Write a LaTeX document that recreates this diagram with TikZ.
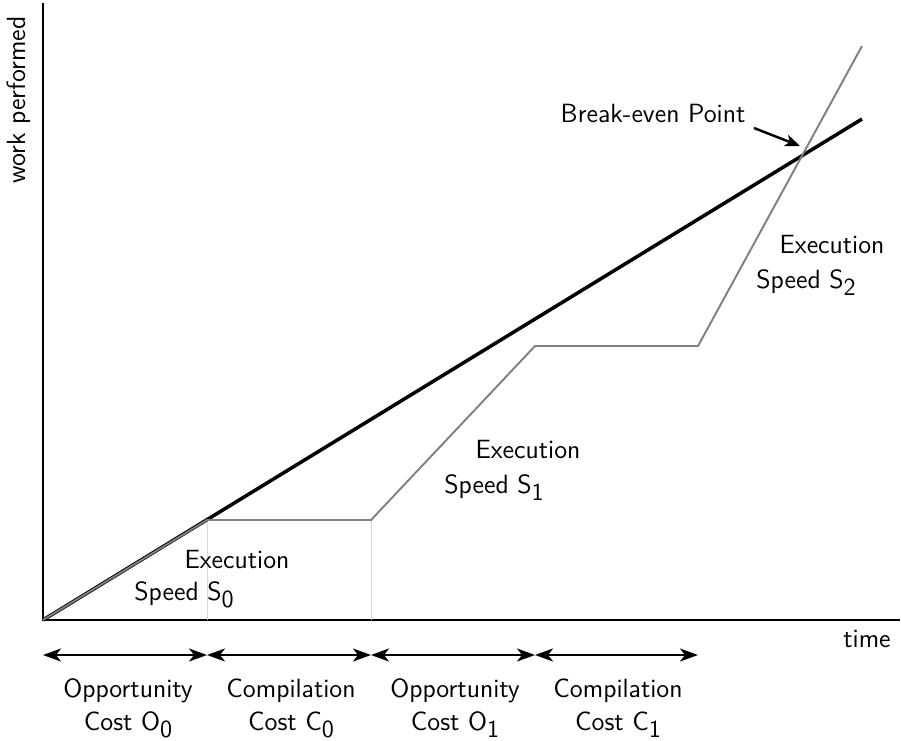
\documentclass[tikz,border=0pt]{standalone}
\usepackage{tikz}
\usetikzlibrary{arrows.meta}
\renewcommand{\familydefault}{\sfdefault}
\newcommand{\lowidx}[1]{\raisebox{-4pt}{\fontsize{14}{16}\selectfont #1}}

\begin{document}
\begin{tikzpicture}[x=0.02cm,y=-0.02cm,
		txt/.style={font=\fontsize{15}{18.7}\selectfont, inner sep=0pt, anchor=base},
		axisline/.style={line width=1.6pt},
		jitline/.style={line width=2pt},
		tierline/.style={line width=1.1pt, color=black!50},
		guideline/.style={line width=0.4pt, color=black!15},
		spanarrow/.style={line width=1.2pt, {Stealth[length=0.36cm,width=0.26cm,inset=0.1cm]}-{Stealth[length=0.36cm,width=0.26cm,inset=0.1cm]}}
	]
	\useasboundingbox (0,0) rectangle (901,740);

	% axes
	\coordinate (origin) at (43,620);
	\coordinate (ytop) at (43,3);
	\coordinate (xend) at (900,620);
	\draw[axisline] (ytop) -- (origin) -- (xend);
	\node[txt, rotate=90] (wlabel) at (25,100) {work performed};
	\node[txt] (tlabel) at (867,647) {time};

	% points of the tiered curve
	\coordinate (a1) at (207,520);
	\coordinate (a2) at (371,520);
	\coordinate (a3) at (535,346);
	\coordinate (a4) at (698,346);
	\coordinate (a5) at (862,46);
	\coordinate (b1) at (207,620);
	\coordinate (b2) at (371,620);
	\coordinate (jend) at (862,119);

	\draw[guideline] (a1) -- (b1);
	\draw[guideline] (a2) -- (b2);
	\draw[jitline] (origin) -- (jend);
	\draw[tierline] (origin) -- (a1) -- (a2) -- (a3) -- (a4) -- (a5);

	% break-even
	\node[txt] (beven) at (653,122) {Break-even Point};
	\coordinate (btail) at (754,128);
	\coordinate (bhead) at (800,146);
	\draw[line width=1.4pt, -{Stealth[length=0.3cm,width=0.24cm,inset=0.08cm]}] (btail) -- (bhead);

	% execution speeds
	\node[txt] (e0) at (237,568) {Execution};
	\node[txt] (s0) at (184,600) {Speed S\lowidx{0}};
	\node[txt] (e1) at (528,458) {Execution};
	\node[txt] (s1) at (494,493) {Speed S\lowidx{1}};
	\node[txt] (e2) at (832,253) {Execution};
	\node[txt] (s2) at (806,288) {Speed S\lowidx{2}};

	% cost spans
	\coordinate (t0) at (43,655);
	\coordinate (t1) at (207,655);
	\coordinate (t2) at (371,655);
	\coordinate (t3) at (535,655);
	\coordinate (t4) at (698,655);
	\draw[spanarrow] (t0) -- (t1);
	\draw[spanarrow] (t1) -- (t2);
	\draw[spanarrow] (t2) -- (t3);
	\draw[spanarrow] (t3) -- (t4);

	\node[txt] (o0a) at (128,697) {Opportunity};
	\node[txt] (o0b) at (128,730) {Cost O\lowidx{0}};
	\node[txt] (c0a) at (291,697) {Compilation};
	\node[txt] (c0b) at (291,730) {Cost C\lowidx{0}};
	\node[txt] (o1a) at (455,697) {Opportunity};
	\node[txt] (o1b) at (455,730) {Cost O\lowidx{1}};
	\node[txt] (c1a) at (618,697) {Compilation};
	\node[txt] (c1b) at (618,730) {Cost C\lowidx{1}};
\end{tikzpicture}
\end{document}
